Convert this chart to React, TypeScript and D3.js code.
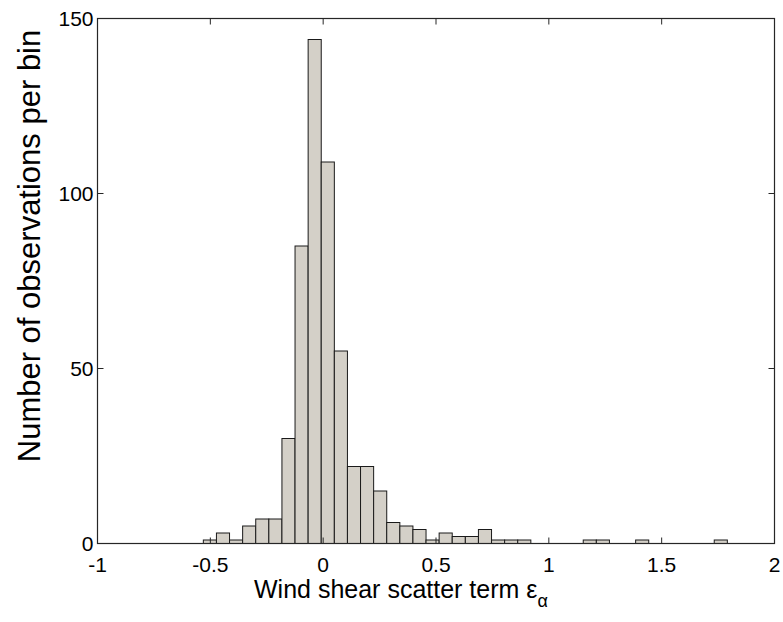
import React from "react";
import * as d3 from "d3";

// Histogram data
const binStart = -0.531;
const binWidth = 0.05805;
const counts = [
  1, 3, 1, 5, 7, 7, 30, 85, 144, 109,
  55, 22, 22, 15, 6, 5, 4, 1, 3, 2,
  2, 4, 1, 1, 1, 0, 0, 0, 0, 1,
  1, 0, 0, 1, 0, 0, 0, 0, 0, 1,
];
const xTicks = [-1, -0.5, 0, 0.5, 1, 1.5, 2];
const xTickLabels = ["-1", "-0.5", "0", "0.5", "1", "1.5", "2"];
const yTicks = [0, 50, 100, 150];
const yTickLabels = ["0", "50", "100", "150"];
const xLabel = "Wind shear scatter term ε";
const xLabelSub = "α";
const yLabel = "Number of observations per bin";

const W = 783;
const H = 622;
const left = 97.5;
const right = 774.5;
const top = 18.5;
const bottom = 543.5;
const font = "'Liberation Sans', Arial, Helvetica, sans-serif";

export default function App() {
  const x = d3.scaleLinear().domain([-1, 2]).range([left, right]);
  const y = d3.scaleLinear().domain([0, 150]).range([bottom, top]);
  const bins = counts.map((c, i) => ({
    x0: binStart + i * binWidth,
    x1: binStart + (i + 1) * binWidth,
    c,
  }));
  const tickLen = 6;
  const axisColor = "#262626";
  return (
    <svg
      width={W}
      height={H}
      style={{ position: "absolute", left: 0, top: 0, background: "#fff" }}
      fontFamily={font}
    >
      <rect x={0} y={0} width={W} height={H} fill="#fff" />
      {bins
        .filter((b) => b.c > 0)
        .map((b, i) => (
          <rect
            key={i}
            x={x(b.x0)}
            y={y(b.c)}
            width={x(b.x1) - x(b.x0)}
            height={y(0) - y(b.c)}
            fill="#d4d0c8"
            stroke="#1a1a1a"
            strokeWidth={1}
          />
        ))}
      {/* frame */}
      <rect
        x={left}
        y={top}
        width={right - left}
        height={bottom - top}
        fill="none"
        stroke={axisColor}
        strokeWidth={1.2}
      />
      {/* x ticks */}
      {xTicks.map((t, i) => (
        <g key={"xt" + i}>
          <line x1={x(t)} x2={x(t)} y1={bottom} y2={bottom - tickLen} stroke={axisColor} />
          <line x1={x(t)} x2={x(t)} y1={top} y2={top + tickLen} stroke={axisColor} />
          <text x={x(t)} y={bottom + 28.5} fontSize={21} textAnchor="middle" fill="#000">
            {xTickLabels[i]}
          </text>
        </g>
      ))}
      {/* y ticks */}
      {yTicks.map((t, i) => (
        <g key={"yt" + i}>
          <line x1={left} x2={left + tickLen} y1={y(t)} y2={y(t)} stroke={axisColor} />
          <line x1={right} x2={right - tickLen} y1={y(t)} y2={y(t)} stroke={axisColor} />
          <text x={left - 4} y={y(t) + 7} fontSize={21} textAnchor="end" fill="#000">
            {yTickLabels[i]}
          </text>
        </g>
      ))}
      <text x={254} y={598} fontSize={25} fill="#000">
        {xLabel}
        <tspan fontSize={18} dy={9}>
          {xLabelSub}
        </tspan>
      </text>
      <text
        transform={`translate(40, 246) rotate(-90)`}
        fontSize={31}
        textAnchor="middle"
        fill="#000"
      >
        {yLabel}
      </text>
    </svg>
  );
}
